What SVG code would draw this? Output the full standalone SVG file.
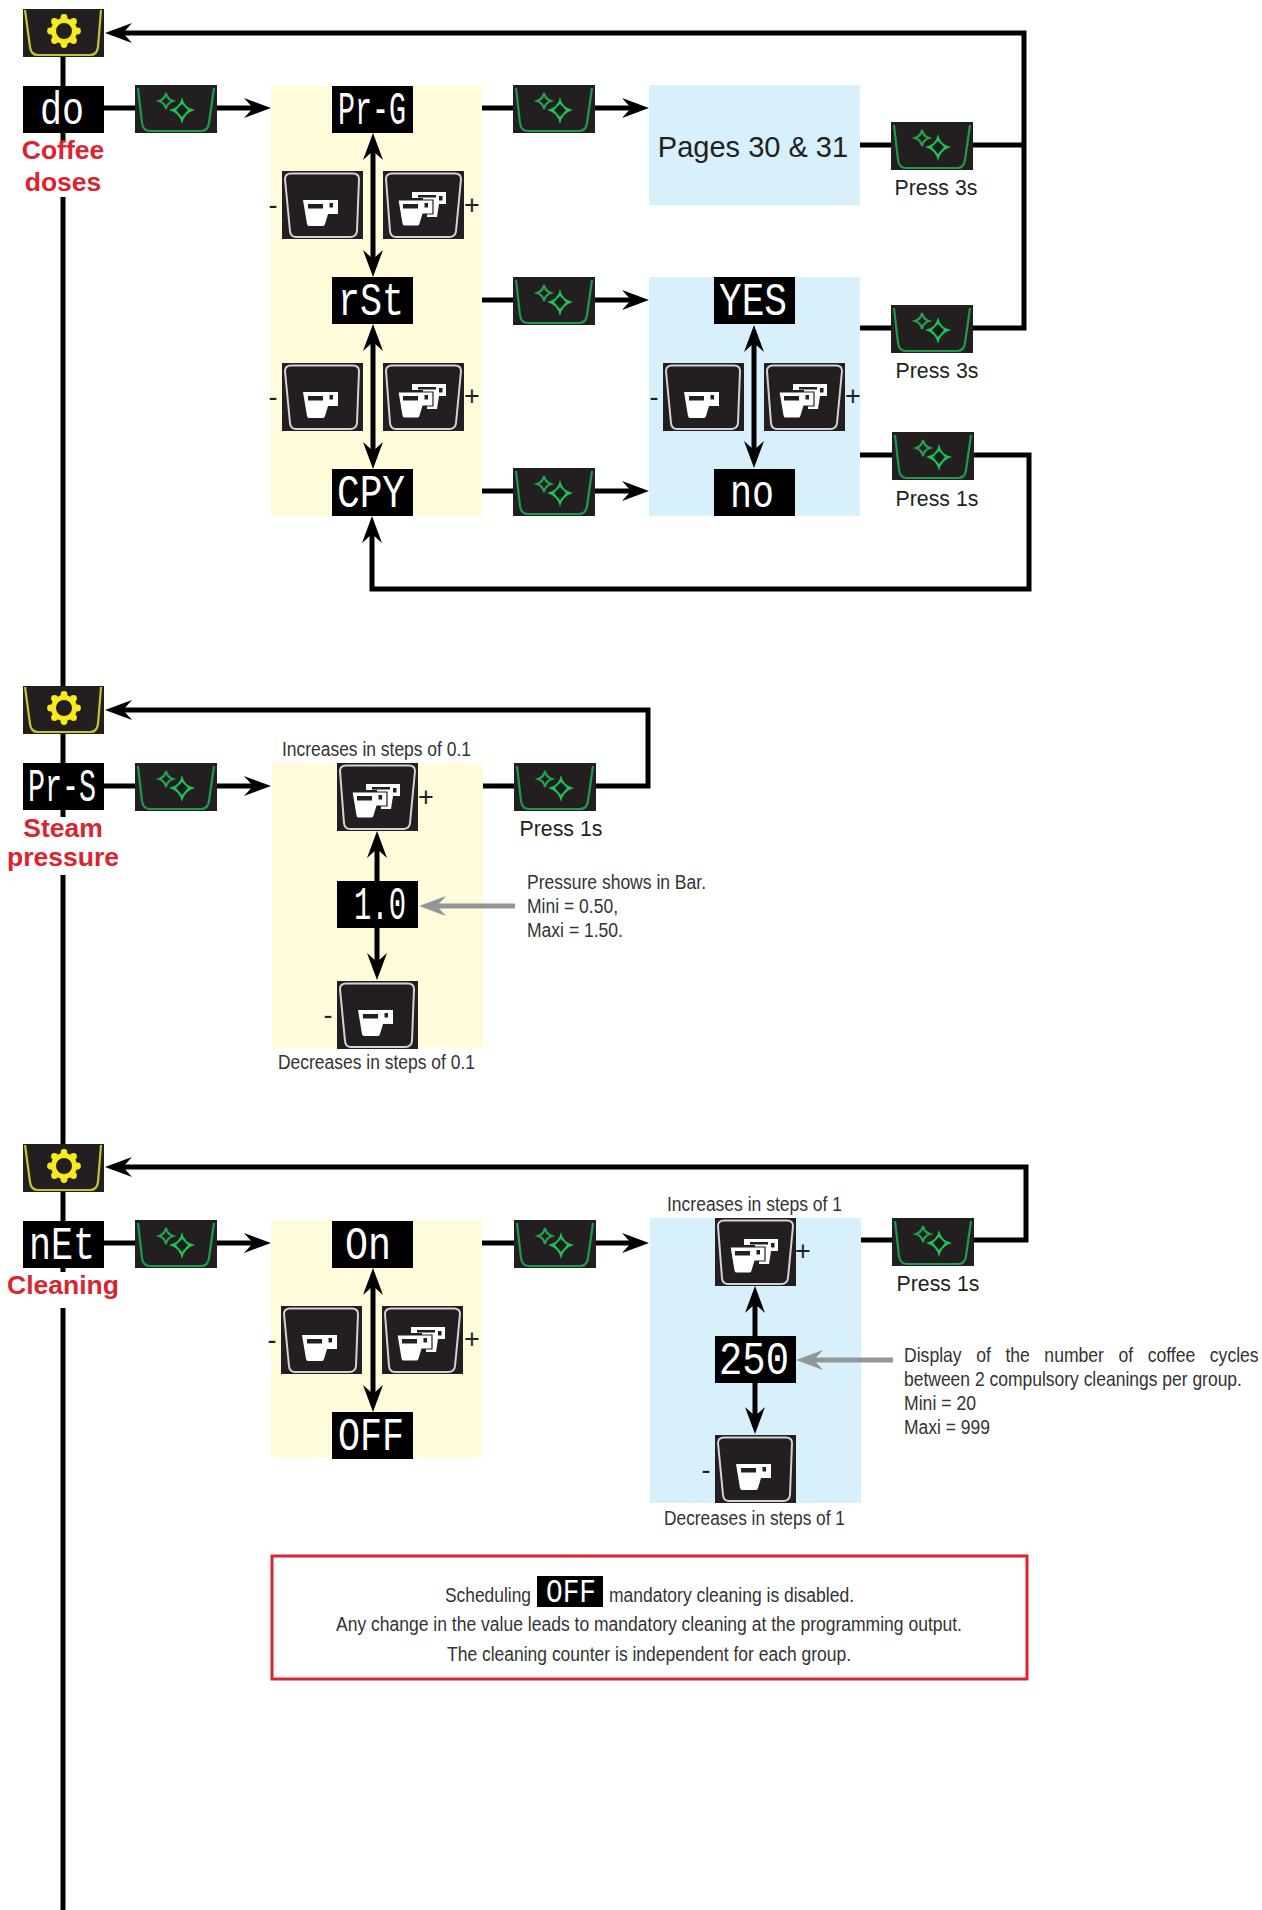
<svg xmlns="http://www.w3.org/2000/svg" width="1262" height="1910" viewBox="0 0 1262 1910">
<style>
text{font-family:"Liberation Sans",Arial,sans-serif}
.yp{fill:#fffbdb}.bp{fill:#d8f0fb}
.dbg{fill:#000}
.seg{font-family:"Liberation Mono","DejaVu Sans Mono",monospace;font-size:46px;fill:#fff}
.c{stroke:#000;stroke-width:5;fill:none;marker-end:url(#ah)}
.d{stroke:#000;stroke-width:5;fill:none;marker-start:url(#ah);marker-end:url(#ah)}
.n{stroke:#000;stroke-width:5;fill:none}
.g{stroke:#939598;stroke-width:5;fill:none;marker-end:url(#ag)}
.red{font-weight:bold;font-size:26.5px;fill:#d9252f;text-anchor:middle}
.pr{font-size:21.3px;fill:#231f20;text-anchor:middle}
.nar{font-size:20px;fill:#333}
.pm{font-size:27px;fill:#231f20;text-anchor:middle}
</style>
<defs>
<marker id="ah" markerUnits="userSpaceOnUse" markerWidth="27" markerHeight="20" viewBox="0 0 27 20" refX="12" refY="10" orient="auto-start-reverse"><path d="M27,10 L0,0 L9,10 L0,20Z" fill="#000"/></marker>
<marker id="ag" markerUnits="userSpaceOnUse" markerWidth="27" markerHeight="20" viewBox="0 0 27 20" refX="12" refY="10" orient="auto"><path d="M27,10 L0,0 L9,10 L0,20Z" fill="#939598"/></marker>
<symbol id="gear" overflow="visible">
<rect width="81" height="48" fill="#231f20"/>
<path d="M2,1 L7,38 Q8,46 15,46 H67 Q74,46 75,38 L78,1" fill="none" stroke="#c8c332" stroke-width="2.2"/>
<g fill="#f7ea1d"><circle cx="41" cy="8.5" r="3.4"/><circle cx="41" cy="35.5" r="3.4"/><circle cx="27.5" cy="22" r="3.4"/><circle cx="54.500" cy="22" r="3.4"/><circle cx="31.500" cy="12.500" r="3.4"/><circle cx="50.500" cy="12.500" r="3.4"/><circle cx="31.500" cy="31.500" r="3.4"/><circle cx="50.500" cy="31.500" r="3.4"/></g>
<circle cx="41" cy="22" r="10.500" fill="#231f20" stroke="#f7ea1d" stroke-width="5"/>
</symbol>
<symbol id="green" overflow="visible">
<rect width="82" height="48" fill="#231f20"/>
<path d="M3,3 L7,38 Q8,46 15,46 H66 Q73,46 74,38 L79,3" fill="none" stroke="#1f9a4a" stroke-width="2.2"/>
<path d="M31,8 Q32,14 38,16 Q32,18 31,24 Q30,18 24,16 Q30,14 31,8Z" fill="#231f20" stroke="#25a24d" stroke-width="2.2"/>
<path d="M47,12 Q49,23 60,25 Q49,28 47,39 Q45,28 34,25 Q45,23 47,12Z" fill="#22c055"/>
<path d="M47,19 L53,25 L47,32 L41,25Z" fill="#14201a"/>
</symbol>
<symbol id="cup1" overflow="visible">
<rect width="81" height="68" fill="#231f20"/>
<path d="M9,2.500 H71 Q77,2.500 77,8 L75,60 Q74.500,66 68,66 H14 Q8.500,66 8,60 L3,8 Q3,2.500 9,2.500Z" fill="none" stroke="#d4d4d4" stroke-width="2"/>
<path d="M21,29 H56 V43 H46 L43,53 Q42.500,55 41,55 H27 Q25.500,55 25,53Z" fill="#fff"/>
<rect x="26" y="33" width="15" height="4.500" fill="#231f20"/><rect x="47.500" y="32" width="3.500" height="4.500" fill="#231f20"/>
</symbol>
<symbol id="cup2" overflow="visible">
<rect width="81" height="68" fill="#231f20"/>
<path d="M9,2.500 H72 Q78,2.500 78,8 L73,60 Q72.500,66 66,66 H13 Q7.500,66 7,60 L3,8 Q3,2.500 9,2.500Z" fill="none" stroke="#d4d4d4" stroke-width="2"/>
<path d="M29,21 H63 V33 H56 L54,46 H44 V40 H40 V27 H29Z" fill="#fff"/>
<rect x="35" y="24" width="18" height="2.500" fill="#231f20"/><rect x="56" y="25" width="3.500" height="4.500" fill="#231f20"/>
<path d="M15,29 H50 V43 H40 L37,53 Q36.500,55 35,55 H21 Q19.500,55 19,53Z" fill="#fff" stroke="#231f20" stroke-width="1.200"/>
<rect x="20" y="33" width="15" height="4.500" fill="#231f20"/><rect x="41.500" y="32" width="3.500" height="4.500" fill="#231f20"/>
</symbol>
</defs>
<rect width="1262" height="1910" fill="#fff"/>

<g id="panels">
<rect class="yp" x="271" y="86" width="211" height="430"/>
<rect class="bp" x="649" y="85" width="211" height="120"/>
<rect class="bp" x="649" y="277" width="211" height="239"/>
<rect class="yp" x="272" y="763" width="211" height="285"/>
<rect class="yp" x="271" y="1220" width="211" height="238"/>
<rect class="bp" x="650" y="1218" width="211" height="285"/>
</g>

<g id="connectors">
<path class="n" d="M63,57 V141 M63,197 V817 M63,875 V1272 M63,1308 V1910"/>
<path class="c" d="M860,328 H1024 V33 H120"/>
<path class="n" d="M860,145 H1024"/>
<path class="c" d="M860,455 H1029 V589 H372 V531"/>
<path class="c" d="M104,108 H256"/>
<path class="c" d="M482,108 H634"/>
<path class="c" d="M482,300 H634"/>
<path class="c" d="M482,491 H634"/>
<path class="d" d="M373,148 V262"/>
<path class="d" d="M373,339 V454"/>
<path class="d" d="M754,340 V453"/>
<path class="c" d="M104,786 H256"/>
<path class="c" d="M483,786 H648 V710 H120"/>
<path class="c" d="M377,881 V846"/>
<path class="c" d="M377,928 V965"/>
<path class="g" d="M515,906 H434"/>
<path class="c" d="M104,1243 H256"/>
<path class="d" d="M373,1283 V1397"/>
<path class="c" d="M482,1243 H634"/>
<path class="c" d="M861,1240 H1026 V1167 H120"/>
<path class="c" d="M755,1336 V1301"/>
<path class="c" d="M755,1383 V1419"/>
<path class="g" d="M893,1360 H811"/>
</g>

<g id="n-gear1"><use href="#gear" x="23" y="9"/></g>
<g id="n-do"><rect class="dbg" x="23" y="86" width="81" height="47"/><text class="seg" x="40" y="124" textLength="44" lengthAdjust="spacingAndGlyphs">do</text></g>
<g id="l-coffee"><text class="red" x="63" y="159">Coffee</text><text class="red" x="63" y="191">doses</text></g>
<g id="n-green1"><use href="#green" x="135" y="85"/></g>
<g id="n-prg"><rect class="dbg" x="332" y="86" width="81" height="47"/><text class="seg" x="338" y="124" textLength="68" lengthAdjust="spacingAndGlyphs">Pr-G</text></g>
<g id="n-cup1a"><use href="#cup1" x="282" y="171"/><text class="pm" x="273" y="214">-</text></g>
<g id="n-cup2a"><use href="#cup2" x="383" y="171"/><text class="pm" x="472" y="214">+</text></g>
<g id="n-rst"><rect class="dbg" x="332" y="277" width="81" height="47"/><text class="seg" x="338" y="315" textLength="66" lengthAdjust="spacingAndGlyphs">rSt</text></g>
<g id="n-cup1b"><use href="#cup1" x="282" y="363"/><text class="pm" x="273" y="406">-</text></g>
<g id="n-cup2b"><use href="#cup2" x="383" y="363"/><text class="pm" x="472" y="405">+</text></g>
<g id="n-cpy"><rect class="dbg" x="332" y="469" width="81" height="47"/><text class="seg" x="337" y="507" textLength="68" lengthAdjust="spacingAndGlyphs">CPY</text></g>
<g id="n-green2"><use href="#green" x="513" y="85"/></g>
<g id="n-green3"><use href="#green" x="513" y="277"/></g>
<g id="n-green4"><use href="#green" x="513" y="468"/></g>
<g id="n-pages"><text x="753" y="157" font-size="29" fill="#231f20" text-anchor="middle">Pages 30 &amp; 31</text></g>
<g id="n-yes"><rect class="dbg" x="714" y="277" width="81" height="47"/><text class="seg" x="719" y="315" textLength="68" lengthAdjust="spacingAndGlyphs">YES</text></g>
<g id="n-cup1c"><use href="#cup1" x="663" y="363"/><text class="pm" x="654" y="406">-</text></g>
<g id="n-cup2c"><use href="#cup2" x="764" y="363"/><text class="pm" x="853" y="405">+</text></g>
<g id="n-no"><rect class="dbg" x="714" y="469" width="81" height="47"/><text class="seg" x="730" y="507" textLength="44" lengthAdjust="spacingAndGlyphs">no</text></g>
<g id="n-green5"><use href="#green" x="891" y="122"/><text class="pr" x="936" y="195">Press 3s</text></g>
<g id="n-green6"><use href="#green" x="891" y="305"/><text class="pr" x="937" y="378">Press 3s</text></g>
<g id="n-green7"><use href="#green" x="892" y="432"/><text class="pr" x="937" y="506">Press 1s</text></g>

<g id="n-gear2"><use href="#gear" x="23" y="686"/></g>
<g id="n-prs"><rect class="dbg" x="23" y="763" width="81" height="47"/><text class="seg" x="28" y="801" textLength="68" lengthAdjust="spacingAndGlyphs">Pr-S</text></g>
<g id="l-steam"><text class="red" x="63" y="837">Steam</text><text class="red" x="63" y="866">pressure</text></g>
<g id="n-green8"><use href="#green" x="135" y="763"/></g>
<g id="n-cup2d"><text class="nar" x="282" y="756" textLength="189" lengthAdjust="spacingAndGlyphs">Increases in steps of 0.1</text><use href="#cup2" x="337" y="763"/><text class="pm" x="426" y="806">+</text></g>
<g id="n-10"><rect class="dbg" x="337" y="881" width="81" height="47"/><text class="seg" x="354" y="919" textLength="52" lengthAdjust="spacingAndGlyphs">1.0</text></g>
<g id="n-cup1d"><use href="#cup1" x="337" y="981"/><text class="pm" x="328" y="1024">-</text><text class="nar" x="278" y="1069" textLength="197" lengthAdjust="spacingAndGlyphs">Decreases in steps of 0.1</text></g>
<g id="n-green9"><use href="#green" x="514" y="763"/><text class="pr" x="561" y="836">Press 1s</text></g>
<g id="n-note1"><text class="nar" x="527" y="889" textLength="179" lengthAdjust="spacingAndGlyphs">Pressure shows in Bar.</text><text class="nar" x="527" y="913" textLength="91" lengthAdjust="spacingAndGlyphs">Mini = 0.50,</text><text class="nar" x="527" y="937" textLength="96" lengthAdjust="spacingAndGlyphs">Maxi = 1.50.</text></g>

<g id="n-gear3"><use href="#gear" x="23" y="1144"/></g>
<g id="n-net"><rect class="dbg" x="23" y="1221" width="81" height="47"/><text class="seg" x="29" y="1259" textLength="66" lengthAdjust="spacingAndGlyphs">nEt</text></g>
<g id="l-clean"><text class="red" x="63" y="1294">Cleaning</text></g>
<g id="n-green10"><use href="#green" x="135" y="1220"/></g>
<g id="n-on"><rect class="dbg" x="332" y="1221" width="81" height="47"/><text class="seg" x="345" y="1259" textLength="46" lengthAdjust="spacingAndGlyphs">On</text></g>
<g id="n-cup1e"><use href="#cup1" x="281" y="1306"/><text class="pm" x="272" y="1349">-</text></g>
<g id="n-cup2e"><use href="#cup2" x="382" y="1306"/><text class="pm" x="472" y="1348">+</text></g>
<g id="n-off"><rect class="dbg" x="332" y="1412" width="81" height="47"/><text class="seg" x="338" y="1450" textLength="66" lengthAdjust="spacingAndGlyphs">OFF</text></g>
<g id="n-green11"><use href="#green" x="514" y="1220"/></g>
<g id="n-cup2f"><text class="nar" x="667" y="1211" textLength="175" lengthAdjust="spacingAndGlyphs">Increases in steps of 1</text><use href="#cup2" x="715" y="1218"/><text class="pm" x="803" y="1260">+</text></g>
<g id="n-250"><rect class="dbg" x="715" y="1336" width="81" height="47"/><text class="seg" x="719" y="1374" textLength="70" lengthAdjust="spacingAndGlyphs">250</text></g>
<g id="n-cup1f"><use href="#cup1" x="715" y="1435"/><text class="pm" x="706" y="1479">-</text><text class="nar" x="664" y="1525" textLength="181" lengthAdjust="spacingAndGlyphs">Decreases in steps of 1</text></g>
<g id="n-green12"><use href="#green" x="892" y="1218"/><text class="pr" x="938" y="1291">Press 1s</text></g>
<g id="n-note2"><text class="nar" transform="translate(904,1362) scale(0.88,1)" textLength="403" lengthAdjust="spacingAndGlyphs" word-spacing="11">Display of the number of coffee cycles</text><text class="nar" transform="translate(904,1386) scale(0.88,1)" textLength="384" lengthAdjust="spacingAndGlyphs">between 2 compulsory cleanings per group.</text><text class="nar" x="904" y="1410" textLength="72" lengthAdjust="spacingAndGlyphs">Mini = 20</text><text class="nar" x="904" y="1434" textLength="86" lengthAdjust="spacingAndGlyphs">Maxi = 999</text></g>

<g id="n-box">
<rect x="272" y="1556" width="755" height="123" fill="#fff" stroke="#d9252f" stroke-width="3"/>
<text class="nar" x="445" y="1602" textLength="86" lengthAdjust="spacingAndGlyphs">Scheduling</text>
<rect class="dbg" x="537" y="1576" width="66" height="31" fill="#231f20"/>
<text class="seg" x="546" y="1602" style="font-size:33px" textLength="50" lengthAdjust="spacingAndGlyphs">OFF</text>
<text class="nar" x="609" y="1602" textLength="245" lengthAdjust="spacingAndGlyphs">mandatory cleaning is disabled.</text>
<text class="nar" x="336" y="1631" textLength="626" lengthAdjust="spacingAndGlyphs">Any change in the value leads to mandatory cleaning at the programming output.</text>
<text class="nar" x="447" y="1661" textLength="404" lengthAdjust="spacingAndGlyphs">The cleaning counter is independent for each group.</text>
</g>
</svg>
